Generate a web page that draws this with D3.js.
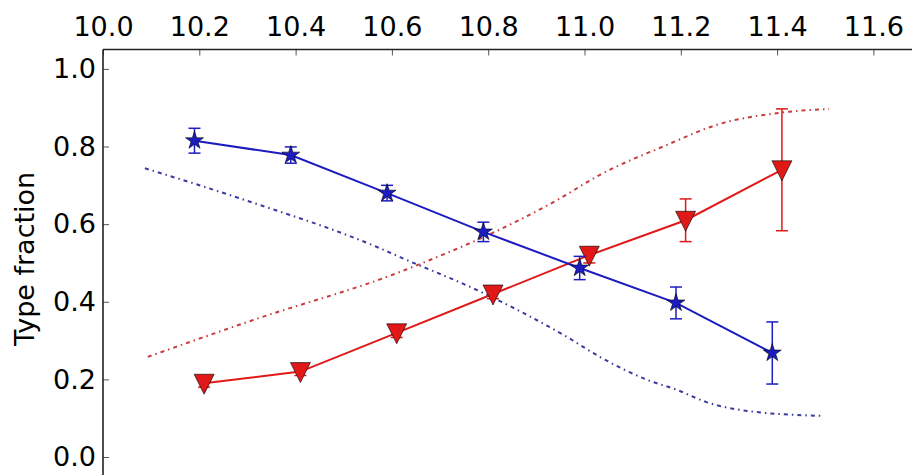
<!DOCTYPE html>
<html>
<head>
<meta charset="utf-8">
<script src="https://cdn.jsdelivr.net/npm/d3@7"></script>
<style>
  html, body { margin: 0; padding: 0; background: #fff; }
  svg { display: block; }
  text { font-family: "DejaVu Sans", sans-serif; fill: #000; }
</style>
</head>
<body>
<svg id="chart" width="912" height="475"></svg>
<script>
// Measured fractions per bin (blue: stars, red: down-triangles), offset slightly in x
const blueX = [10.19, 10.39, 10.59, 10.79, 10.99, 11.19, 11.39];
const blueY = [0.815, 0.778, 0.680, 0.580, 0.487, 0.397, 0.268];
const blueErr = [0.032, 0.021, 0.020, 0.025, 0.030, 0.041, 0.080];

const redX = [10.21, 10.41, 10.61, 10.81, 11.01, 11.21, 11.41];
const redY = [0.190, 0.220, 0.320, 0.420, 0.520, 0.610, 0.740];
const redErr = [0.010, 0.010, 0.012, 0.012, 0.020, 0.055, 0.157];

// Model curves (dash-dot)
const modelBlueX = [10.087, 10.30, 10.569, 10.617, 10.789, 10.964, 11.032, 11.132, 11.192, 11.252, 11.356, 11.493];
const modelBlueY = [0.744, 0.660, 0.541, 0.515, 0.423, 0.309, 0.258, 0.198, 0.173, 0.142, 0.116, 0.106];
const modelRedX = [10.093, 10.312, 10.617, 10.943, 11.032, 11.171, 11.275, 11.406, 11.508];
const modelRedY = [0.258, 0.353, 0.477, 0.662, 0.727, 0.804, 0.856, 0.887, 0.897];

const xTicks = [10.0, 10.2, 10.4, 10.6, 10.8, 11.0, 11.2, 11.4, 11.6];
const yTicks = [0.0, 0.2, 0.4, 0.6, 0.8, 1.0];

const svg = d3.select("#chart");
const plotLeft = 103, plotTop = 49.5;
const fontSize = 27;

const x = d3.scaleLinear().domain([10.0, 11.8]).range([plotLeft, plotLeft + 1.8 * 481.5]);
const y = d3.scaleLinear().domain([-0.05, 1.05]).range([476.4, plotTop]);

// Axes: ticks point inward, labels on top and left
const xAxis = d3.axisTop(x).tickValues(xTicks).tickFormat(d3.format(".1f"))
  .tickSizeInner(-6).tickSizeOuter(0).tickPadding(14);
const yAxis = d3.axisLeft(y).tickValues(yTicks).tickFormat(d3.format(".1f"))
  .tickSizeInner(-6).tickSizeOuter(0).tickPadding(7);

const gx = svg.append("g").attr("transform", `translate(0,${plotTop})`).call(xAxis);
const gy = svg.append("g").attr("transform", `translate(${plotLeft},0)`).call(yAxis);
[gx, gy].forEach(g => {
  g.select(".domain").remove();
  g.selectAll(".tick line").attr("stroke", "#555").attr("stroke-width", 1);
  g.selectAll(".tick text").attr("font-size", fontSize).attr("font-family", "DejaVu Sans").attr("fill", "#000");
});

// Spines
svg.append("line").attr("x1", plotLeft).attr("x2", 912).attr("y1", plotTop).attr("y2", plotTop)
  .attr("stroke", "#222").attr("stroke-width", 1.6);
svg.append("line").attr("x1", plotLeft).attr("x2", plotLeft).attr("y1", plotTop).attr("y2", 475)
  .attr("stroke", "#222").attr("stroke-width", 1.6);

// Y label
svg.append("text")
  .attr("transform", `translate(34,${y(0.5) - 4}) rotate(-90)`)
  .attr("text-anchor", "middle")
  .attr("font-size", fontSize)
  .text("Type fraction");

const plot = svg.append("g");

// Model dash-dot curves
const curve = d3.line().x(d => x(d[0])).y(d => y(d[1])).curve(d3.curveMonotoneX);
plot.append("path").datum(d3.zip(modelRedX, modelRedY)).attr("d", curve)
  .attr("fill", "none").attr("stroke", "#c83c3c").attr("stroke-width", 2)
  .attr("stroke-dasharray", "4,4,1.5,4");
plot.append("path").datum(d3.zip(modelBlueX, modelBlueY)).attr("d", curve)
  .attr("fill", "none").attr("stroke", "#3a3aa0").attr("stroke-width", 2)
  .attr("stroke-dasharray", "4,4,1.5,4");

// Data series
const straight = d3.line().x(d => x(d[0])).y(d => y(d[1]));
function series(xs, ys, errs, color, marker) {
  const pts = d3.zip(xs, ys, errs);
  plot.append("path").datum(pts).attr("d", straight)
    .attr("fill", "none").attr("stroke", color).attr("stroke-width", 2);
  const eb = plot.append("g").attr("stroke", color).attr("stroke-width", 1.5);
  pts.forEach(([xv, yv, e]) => {
    const cx = x(xv);
    eb.append("line").attr("x1", cx).attr("x2", cx).attr("y1", y(yv - e)).attr("y2", y(yv + e));
    [yv - e, yv + e].forEach(v => {
      eb.append("line").attr("x1", cx - 6).attr("x2", cx + 6).attr("y1", y(v)).attr("y2", y(v));
    });
  });
  plot.append("g").selectAll("path").data(pts).join("path")
    .attr("transform", d => `translate(${x(d[0])},${y(d[1])})`)
    .attr("d", marker)
    .attr("fill", color).attr("stroke", "#000").attr("stroke-width", 0.6);
}

const star = d3.symbol().type(d3.symbolStar).size(100)();
const triDown = "M-10,-9L10,-9L0,11Z";

series(redX, redY, redErr, "#e01818", triDown);
series(blueX, blueY, blueErr, "#1c1cc0", star);
</script>
</body>
</html>
